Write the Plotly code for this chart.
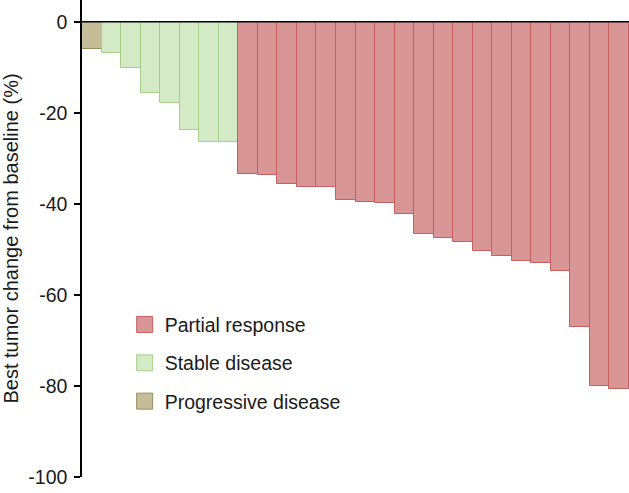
import plotly.graph_objects as go

# Data (best % change from baseline per patient, sorted)
pd_values = [-6.0]
sd_values = [-6.9, -10.2, -15.7, -17.9, -23.7, -26.3, -26.4]
pr_values = [-33.5, -33.6, -35.7, -36.3, -36.3, -39.2, -39.6, -39.9, -42.3, -46.6,
             -47.5, -48.4, -50.3, -51.4, -52.5, -53.0, -54.7, -67.1, -80.1, -80.7]
y_ticks = [0, -20, -40, -60, -80, -100]
labels = {"pr": "Partial response", "sd": "Stable disease", "pd": "Progressive disease"}

colors = {
    "pr": ("rgb(217,150,150)", "rgb(200,95,95)"),
    "sd": ("rgb(212,233,198)", "rgb(165,208,135)"),
    "pd": ("rgb(197,189,151)", "rgb(150,142,95)"),
}

n_pd, n_sd, n_pr = len(pd_values), len(sd_values), len(pr_values)
x_pd = list(range(n_pd))
x_sd = list(range(n_pd, n_pd + n_sd))
x_pr = list(range(n_pd + n_sd, n_pd + n_sd + n_pr))

fig = go.Figure()
for key, xs, ys in [("pd", x_pd, pd_values), ("sd", x_sd, sd_values), ("pr", x_pr, pr_values)]:
    fill, edge = colors[key]
    fig.add_trace(go.Bar(x=xs, y=ys, name=labels[key], legendgroup=key, showlegend=False,
                         marker=dict(color=fill, line=dict(color=edge, width=1))))

# legend entries (larger square swatches)
for key in ["pr", "sd", "pd"]:
    fill, edge = colors[key]
    fig.add_trace(go.Scatter(x=[None], y=[None], mode="markers", name=labels[key],
                             legendgroup=key, showlegend=True,
                             marker=dict(symbol="square", size=17, color=fill,
                                         line=dict(color=edge, width=1))))

font_family = "Liberation Sans, Arial, sans-serif"
text_color = "#1a1a1a"
n_total = n_pd + n_sd + n_pr

fig.update_layout(
    width=629, height=493,
    margin=dict(l=82, r=0, t=0, b=16, autoexpand=False),
    paper_bgcolor="white", plot_bgcolor="white",
    bargap=0,
    font=dict(family=font_family, color=text_color, size=19),
    showlegend=True,
    legend=dict(x=0.078, y=0.36, xanchor="left", yanchor="top",
                traceorder="grouped", font=dict(size=19.5, color=text_color),
                tracegroupgap=10, itemsizing="trace", bgcolor="rgba(0,0,0,0)"),
    xaxis=dict(range=[-0.5, n_total - 0.5], showticklabels=False, ticks="",
               showline=False, showgrid=False, zeroline=False, fixedrange=True,
               automargin=False),
    yaxis=dict(range=[-100, 4.8], tickvals=y_ticks, ticktext=[str(v) for v in y_ticks],
               ticks="outside", ticklen=6, tickwidth=1.5, tickcolor="black",
               showline=True, linecolor="black", linewidth=1.5,
               showgrid=False, zeroline=False, automargin=False,
               ticklabelstandoff=3,
               tickfont=dict(size=19.5, color=text_color),
               title=dict(text="Best tumor change from baseline (%)",
                          font=dict(size=20, color=text_color), standoff=10)),
)

# horizontal baseline at 0
fig.add_shape(type="line", xref="paper", yref="y", x0=0, x1=1, y0=0, y1=0,
              line=dict(color="black", width=1.5), layer="above")

fig.write_html("out.html", config={"displayModeBar": False},
               post_script="document.body.style.margin='0';document.body.style.overflow='hidden';")
